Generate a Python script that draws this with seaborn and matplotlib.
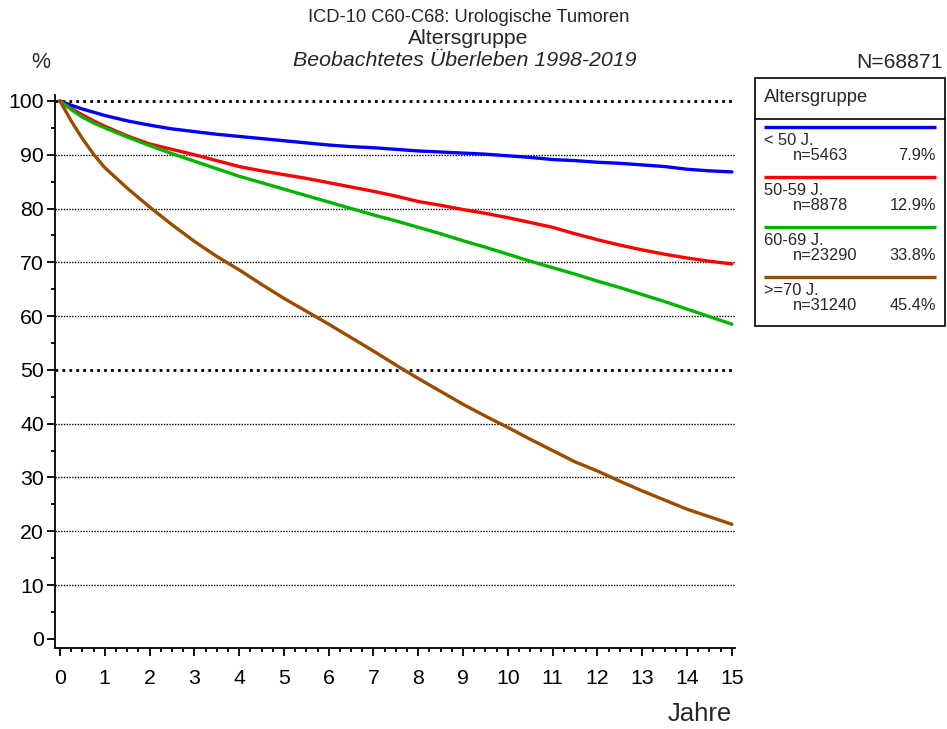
import matplotlib
matplotlib.use("Agg")
import matplotlib.pyplot as plt
from matplotlib.patches import Rectangle
from matplotlib.ticker import MultipleLocator
import seaborn as sns
import pandas as pd

# Jahre seit Diagnose
jahre = [0, 0.25, 0.5, 0.75, 1, 1.5, 2, 2.5, 3, 3.5, 4, 4.5, 5, 5.5, 6, 6.5, 7, 7.5,
         8, 8.5, 9, 9.5, 10, 10.5, 11, 11.5, 12, 12.5, 13, 13.5, 14, 14.5, 15]

# beobachtetes Ueberleben in %
u50 = [100, 99.2, 98.5, 97.9, 97.3, 96.3, 95.5, 94.8, 94.3, 93.8, 93.4, 93.0, 92.6, 92.2,
       91.8, 91.5, 91.3, 91.0, 90.7, 90.5, 90.3, 90.1, 89.8, 89.5, 89.1, 88.9, 88.6,
       88.4, 88.1, 87.8, 87.3, 87.0, 86.8]
a5059 = [100, 98.6, 97.4, 96.3, 95.3, 93.5, 92.0, 91.0, 90.0, 88.9, 87.8, 87.0, 86.3,
         85.6, 84.8, 84.0, 83.2, 82.3, 81.3, 80.6, 79.8, 79.1, 78.3, 77.4, 76.5, 75.3,
         74.2, 73.2, 72.3, 71.5, 70.8, 70.2, 69.7]
a6069 = [100, 98.4, 97.0, 95.9, 95.0, 93.3, 91.7, 90.2, 88.8, 87.4, 86.0, 84.8, 83.6,
         82.4, 81.2, 80.0, 78.8, 77.7, 76.5, 75.3, 74.0, 72.8, 71.5, 70.2, 69.0, 67.8,
         66.5, 65.3, 64.0, 62.7, 61.3, 59.9, 58.5]
a70 = [100, 96.3, 93.0, 90.1, 87.6, 83.8, 80.3, 77.0, 73.9, 71.1, 68.6, 65.9, 63.3,
       60.9, 58.5, 56.0, 53.5, 50.9, 48.4, 46.0, 43.6, 41.4, 39.3, 37.1, 35.0, 32.9,
       31.2, 29.3, 27.5, 25.8, 24.1, 22.7, 21.3]

gruppen = ["< 50 J.", "50-59 J.", "60-69 J.", ">=70 J."]
anzahl = ["n=5463", "n=8878", "n=23290", "n=31240"]
anteil = ["7.9%", "12.9%", "33.8%", "45.4%"]
farben = ["#0000ff", "#ff0000", "#00b400", "#9a4c00"]

df = pd.DataFrame({
    "Jahre": jahre * 4,
    "Ueberleben": u50 + a5059 + a6069 + a70,
    "Gruppe": [g for g in gruppen for _ in jahre],
})

sns.set_style("white")
plt.rcParams["font.family"] = ["Liberation Sans", "DejaVu Sans"]

fig = plt.figure(figsize=(9.47, 7.29), dpi=100)
ax = fig.add_axes([55 / 947, 81 / 729, 680 / 947, 553 / 729])

# Gitterlinien gepunktet, 100 und 50 fett
for yv in range(10, 101, 10):
    fett = yv in (50, 100)
    ax.axhline(yv, color="black", linestyle=(0, (1, 1.5)) if fett else (0, (1, 1)),
               linewidth=2.0 if fett else 1.0, zorder=1)

sns.lineplot(data=df, x="Jahre", y="Ueberleben", hue="Gruppe", hue_order=gruppen,
             palette=farben, linewidth=2.4, legend=False, ax=ax, zorder=3)

ax.set_xlim(-0.11, 15.07)
ax.set_ylim(-1.7, 101.1)
ax.xaxis.set_major_locator(MultipleLocator(1))
ax.xaxis.set_minor_locator(MultipleLocator(0.25))
ax.yaxis.set_major_locator(MultipleLocator(10))
ax.yaxis.set_minor_locator(MultipleLocator(5))
ax.tick_params(axis="both", which="major", direction="out", length=6, width=1.3,
               labelsize=15.3, color="black", labelcolor="black")
ax.tick_params(axis="both", which="minor", direction="out", length=3, width=1.3,
               color="black")
ax.tick_params(axis="x", which="major", pad=9)
ax.tick_params(axis="y", which="major", pad=2)
ax.tick_params(left=True, bottom=True, which="both")
ax.set_xlabel("")
ax.set_ylabel("")
for side in ("top", "right"):
    ax.spines[side].set_visible(False)
for side in ("left", "bottom"):
    ax.spines[side].set_color("black")
    ax.spines[side].set_linewidth(1.3)

# Titel
fig.text(469 / 947, 1 - 17 / 729, "ICD-10 C60-C68: Urologische Tumoren", ha="center",
         va="center", fontsize=13.2)
fig.text(468 / 947, 1 - 38 / 729, "Altersgruppe", ha="center", va="center", fontsize=15.3)
fig.text(465 / 947, 1 - 60 / 729, "Beobachtetes Überleben 1998-2019", ha="center",
         va="center", fontsize=15.4, style="italic")
fig.text(41 / 947, 1 - 62 / 729, "%", ha="center", va="center", fontsize=15.5)
fig.text(943 / 947, 1 - 62 / 729, "N=68871", ha="right", va="center", fontsize=15.2)
fig.text(732 / 947, 1 - 714 / 729, "Jahre", ha="right", va="center", fontsize=18.5)

# Legende
lax = fig.add_axes([754 / 947, 1 - 326 / 729, 191 / 947, 249 / 729])
lax.set_xlim(754, 945)
lax.set_ylim(326, 77)
lax.axis("off")
lax.add_patch(Rectangle((754.5, 77.5), 190, 248, fill=False, edgecolor="black", lw=1.2,
                        clip_on=False))
lax.plot([754.5, 944.5], [119, 119], color="black", lw=1.2, clip_on=False)
lax.text(764, 97, "Altersgruppe", ha="left", va="center", fontsize=13.2)
for i, (g, n, p, c) in enumerate(zip(gruppen, anzahl, anteil, farben)):
    y0 = 127 + 50 * i
    lax.plot([764, 936], [y0, y0], color=c, lw=2.4, solid_capstyle="butt")
    lax.text(764, y0 + 13.5, g, ha="left", va="center", fontsize=11.8)
    lax.text(793, y0 + 29, n, ha="left", va="center", fontsize=11.8)
    lax.text(936, y0 + 29, p, ha="right", va="center", fontsize=11.8)

fig.savefig("out.png", dpi=100)
